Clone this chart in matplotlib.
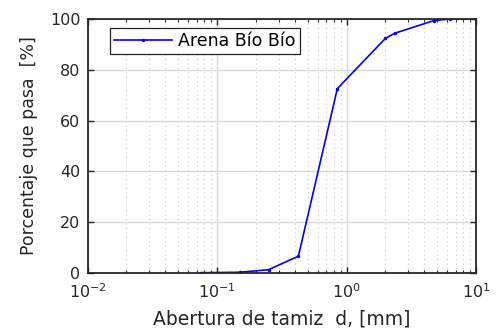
import numpy as np
import matplotlib.pyplot as plt
from matplotlib.ticker import LogLocator, NullFormatter

plt.rcParams['font.family'] = ['DejaVu Sans']

# sieve opening [mm] and percent passing
d = [0.075, 0.15, 0.25, 0.425, 0.85, 2.0, 2.36, 4.75, 6.3, 10.0]
pasa = [0.1, 0.3, 1.3, 6.6, 72.6, 92.4, 94.4, 99.4, 100.0, 100.0]

fig = plt.figure(figsize=(5.01, 3.29), dpi=100)
ax = fig.add_axes([87.5/501, 1-273/329, (476-87.5)/501, (273-19)/329])

ax.semilogx(d, pasa, color='#0000ff', lw=1.2, marker='.', ms=3, label='Arena Bío Bío')

ax.set_xlim(1e-2, 1e1)
ax.set_ylim(0, 100)
ax.set_yticks([0, 20, 40, 60, 80, 100])
ax.xaxis.set_major_locator(LogLocator(base=10, numticks=10))
ax.xaxis.set_minor_locator(LogLocator(base=10, subs=np.arange(2, 10), numticks=20))
ax.xaxis.set_minor_formatter(NullFormatter())

ax.grid(True, which='major', color='#d9d9d9', lw=1.0, ls='-')
ax.grid(True, which='minor', axis='x', color='#c8c8c8', lw=0.8, ls=(0, (1, 3)))
ax.set_axisbelow(True)

ax.tick_params(which='both', direction='in', top=True, right=True, labelsize=11.5, colors='#262626')
ax.tick_params(which='major', length=4, width=1)
ax.tick_params(which='minor', length=2.5, width=0.8)
ax.tick_params(axis='x', pad=7)
ax.tick_params(axis='y', pad=5)
for s in ax.spines.values():
    s.set_linewidth(1.3)
    s.set_color('#262626')

ax.set_xlabel('Abertura de tamiz  d, [mm]', fontsize=13.5, color='#262626', labelpad=6)
ax.set_ylabel('Porcentaje que pasa  [%]', fontsize=12.5, color='#262626', labelpad=9)

leg = ax.legend(loc='upper left', bbox_to_anchor=(0.058, 0.966), borderaxespad=0,
                fontsize=12.5, fancybox=False, framealpha=1, edgecolor='#262626',
                handlelength=3.3, borderpad=0.25, handletextpad=0.35)
leg.get_frame().set_linewidth(0.9)

fig.savefig('out.png', dpi=100)
